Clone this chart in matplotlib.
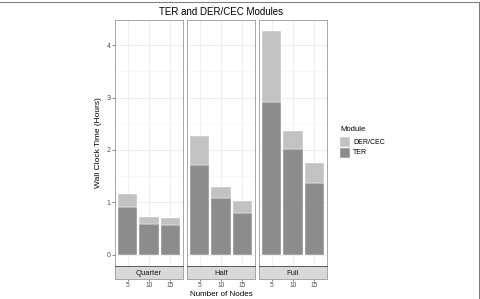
import matplotlib.pyplot as plt
from matplotlib.lines import Line2D
from matplotlib.patches import Rectangle

plt.rcParams['font.family'] = ['Liberation Sans', 'DejaVu Sans']

sizes = ["Quarter", "Half", "Full"]
nodes = ["5", "10", "15"]
ter = {"Quarter": [0.91, 0.59, 0.56],
       "Half": [1.71, 1.08, 0.80],
       "Full": [2.91, 2.01, 1.37]}
total = {"Quarter": [1.16, 0.73, 0.70],
         "Half": [2.26, 1.30, 1.03],
         "Full": [4.27, 2.37, 1.76]}

c_ter = '#8c8c8c'
c_der = '#c2c2c2'
tick_col = '#4d4d4d'

W, H = 481, 299
fig = plt.figure(figsize=(W / 100, H / 100), dpi=100)

lefts = [115, 187, 259]
pw = 68
top, bot = 20, 266
strip_bot = 279

xs = [1, 2, 3]
for i, s in enumerate(sizes):
    ax = fig.add_axes([lefts[i] / W, 1 - bot / H, pw / W, (bot - top) / H])
    der = [t - d for t, d in zip(total[s], ter[s])]
    ax.bar(xs, ter[s], width=0.9, color=c_ter, edgecolor='white', linewidth=0.3, zorder=3)
    ax.bar(xs, der, bottom=ter[s], width=0.9, color=c_der, edgecolor='white', linewidth=0.3, zorder=3)
    ax.set_xlim(0.4, 3.6)
    ax.set_ylim(-0.2135, 4.48)
    ax.set_xticks(xs)
    ax.set_xticks([], minor=True)
    ax.set_yticks([0, 1, 2, 3, 4])
    ax.set_yticks([0.5, 1.5, 2.5, 3.5], minor=True)
    ax.grid(True, which='major', color='#ebebeb', linewidth=0.6, zorder=0)
    ax.grid(True, which='minor', axis='y', color='#f4f4f4', linewidth=0.4, zorder=0)
    ax.set_axisbelow(True)
    ax.tick_params(axis='x', which='both', length=0, labelbottom=False)
    if i == 0:
        ax.tick_params(axis='y', which='major', length=2, width=0.5, color='#555555',
                       labelsize=5, labelcolor=tick_col, pad=1)
        ax.tick_params(axis='y', which='minor', length=0)
        ax.set_ylabel("Wall Clock Time (Hours)", fontsize=6, labelpad=3.5)
    else:
        ax.tick_params(axis='y', which='both', length=0, labelleft=False)
    for sp in ax.spines.values():
        sp.set_color('#999999')
        sp.set_linewidth(0.6)

    # facet strip
    st = fig.add_axes([lefts[i] / W, 1 - strip_bot / H, pw / W, (strip_bot - bot) / H])
    st.set_facecolor('#d9d9d9')
    st.set_xlim(0.4, 3.6)
    st.set_ylim(0, 1)
    st.set_yticks([])
    st.set_xticks(xs)
    st.set_xticklabels(nodes)
    st.tick_params(axis='x', length=1.5, width=0.5, color='#555555', labelsize=4.8,
                   labelcolor=tick_col, pad=0.8)
    for sp in st.spines.values():
        sp.set_color('#999999')
        sp.set_linewidth(0.6)
    st.spines['top'].set_color('#444444')
    st.text(2, 0.45, s, ha='center', va='center', fontsize=5.5, color='#1a1a1a')

fig.text(221.5 / W, 1 - 12 / H, "TER and DER/CEC Modules", ha='center', va='center', fontsize=7)
fig.text(221.5 / W, 1 - 294 / H, "Number of Nodes", ha='center', va='center', fontsize=5.8)

# legend
fig.text(340 / W, 1 - 130 / H, "Module", ha='left', va='center', fontsize=5.5)
for j, (lab, col) in enumerate([("DER/CEC", c_der), ("TER", c_ter)]):
    y0 = 137 + j * 11
    fig.add_artist(Rectangle((340 / W, 1 - (y0 + 10) / H), 10 / W, 10 / H,
                             transform=fig.transFigure, facecolor=col, edgecolor='white', linewidth=0.3))
    fig.text(353 / W, 1 - (y0 + 5) / H, lab, ha='left', va='center', fontsize=5)

# outer frame lines (top and right)
fig.add_artist(Line2D([0, 479.5 / W], [1 - 2 / H, 1 - 2 / H], transform=fig.transFigure,
                      color='#808080', linewidth=0.8))
fig.add_artist(Line2D([479.5 / W, 479.5 / W], [0, 1 - 2 / H], transform=fig.transFigure,
                      color='#808080', linewidth=0.8))

fig.savefig('out.png', dpi=100)
